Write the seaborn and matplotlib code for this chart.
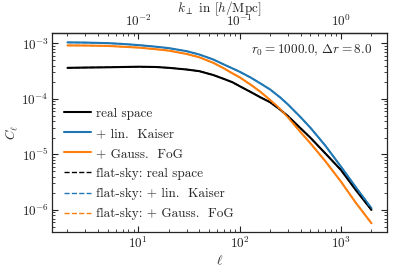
import numpy as np
import pandas as pd
import matplotlib
matplotlib.use("Agg")
import matplotlib.pyplot as plt
import seaborn as sns

# multipoles
ell = [2, 3, 5, 7, 10, 15, 20, 30, 40, 55, 70, 85, 100, 130, 160, 200, 250, 300, 400, 500, 700, 1000, 1400, 2000]
# log10 C_ell
logc_real = [-3.44, -3.435, -3.43, -3.425, -3.42, -3.425, -3.44, -3.47, -3.50, -3.57, -3.64, -3.70, -3.77, -3.88, -3.97, -4.06, -4.19, -4.31, -4.53, -4.70, -4.98, -5.28, -5.64, -6.00]
logc_kaiser = [-2.982, -2.985, -2.995, -3.01, -3.03, -3.06, -3.085, -3.14, -3.20, -3.29, -3.38, -3.45, -3.51, -3.62, -3.72, -3.83, -3.97, -4.10, -4.33, -4.52, -4.84, -5.22, -5.59, -5.97]
logc_fog = [-3.036, -3.038, -3.045, -3.06, -3.075, -3.105, -3.13, -3.19, -3.25, -3.35, -3.45, -3.54, -3.61, -3.75, -3.87, -4.02, -4.18, -4.33, -4.60, -4.80, -5.12, -5.49, -5.87, -6.24]

labels = ["real space", "+ lin.  Kaiser", "+ Gauss.  FoG"]
flat_labels = ["flat-sky: real space", "flat-sky: + lin.  Kaiser", "flat-sky: + Gauss.  FoG"]
colors = ["black", "#1f77b4", "#ff7f0e"]
r0 = 1000.0
dr = 8.0

sns.set_style("ticks")
plt.rcParams.update({
    "font.family": "serif",
    "font.serif": ["cmr10"],
    "mathtext.fontset": "cm",
    "axes.formatter.use_mathtext": True,
    "axes.unicode_minus": False,
    "font.size": 9.5,
    "axes.linewidth": 0.9,
    "xtick.direction": "in",
    "ytick.direction": "in",
    "xtick.color": "#222222",
    "ytick.color": "#222222",
})

fig = plt.figure(figsize=(4.07, 2.67), dpi=100)
ax = fig.add_axes([0.1285, 0.130, 0.8215, 0.745])

ell_arr = np.array(ell, dtype=float)
series = [logc_real, logc_kaiser, logc_fog]
for lc, lab, col in zip(series, labels, colors):
    sns.lineplot(x=ell_arr, y=10 ** np.array(lc), color=col, lw=1.5, label=lab, ax=ax)
for lc, lab, col in zip(series, flat_labels, colors):
    sns.lineplot(x=ell_arr, y=10 ** np.array(lc), color=col, lw=1.0, ls="--", label=lab, ax=ax)

ax.set_xscale("log")
ax.set_yscale("log")
ax.set_xlabel(r"$\ell$", labelpad=2)
ax.set_ylabel(r"$C_\ell$", labelpad=1)
ax.tick_params(which="both", direction="in", right=True, labelsize=9.5)
ax.tick_params(which="major", length=4, pad=2.5)
ax.tick_params(which="minor", length=2)

sec = ax.secondary_xaxis("top", functions=(lambda l: l / r0, lambda k: k * r0))
sec.set_xlabel(r"$k_\perp$ in $[h/\mathrm{Mpc}]$", labelpad=0.5)
sec.tick_params(which="both", direction="in", labelsize=9.5)
sec.tick_params(which="major", length=4, pad=3.5)
sec.tick_params(which="minor", length=2)

ax.text(0.957, 0.915, rf"$r_0 = {r0:.1f}$, $\Delta r = {dr:.1f}$", transform=ax.transAxes,
        ha="right", va="center")

ax.legend(loc="lower left", frameon=False, handlelength=2.0, labelspacing=0.6,
          handletextpad=0.4, borderpad=0.4, borderaxespad=0.5)

fig.savefig("out.png", dpi=100)
